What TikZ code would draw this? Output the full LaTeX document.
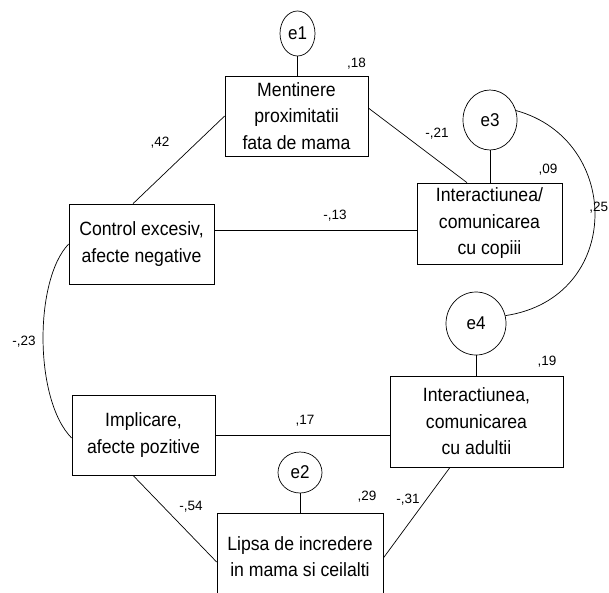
\documentclass[tikz,border=0pt]{standalone}
\usepackage{fontspec}
\setmainfont[FakeStretch=0.92]{Liberation Sans}
\newfontfamily\plainsans{Liberation Sans}
\usetikzlibrary{shapes.geometric}
\begin{document}
\begin{tikzpicture}[x=1pt,y=-1pt,
  line width=0.7pt,
  box/.style={draw, rectangle, align=center, inner sep=0pt,
    font=\fontsize{19.2}{26.5}\selectfont},
  err/.style={draw, ellipse, inner sep=0pt,
    font=\fontsize{18.5}{20}\selectfont},
  lbl/.style={inner sep=0pt, font=\plainsans\fontsize{13.5}{16}\selectfont}]
\useasboundingbox (0,0) rectangle (609,592);

% observed variables
\node[box, minimum width=143pt, minimum height=80pt] (ment) at (296.5,116) {Mentinere\\proximitatii\\fata de mama};
\node[box, minimum width=145pt, minimum height=81pt] (int1) at (489.5,223.5) {Interactiunea/\\comunicarea\\cu copiii};
\node[box, minimum width=145pt, minimum height=80pt] (ctrl) at (141.5,244) {Control excesiv,\\afecte negative};
\node[box, minimum width=143pt, minimum height=80pt] (impl) at (143.5,435) {Implicare,\\afecte pozitive};
\node[box, minimum width=173pt, minimum height=91pt] (int2) at (476.5,421.5) {Interactiunea,\\comunicarea\\cu adultii};
\node[box, minimum width=166pt, minimum height=87pt] (lipsa) at (300,556.5) {Lipsa de incredere\\in mama si ceilalti};

% error terms
\node[err, minimum width=35pt, minimum height=45pt] (e1) at (297.5,33.5) {e1};
\node[err, minimum width=54pt, minimum height=60pt] (e3) at (490,120) {e3};
\node[err, minimum width=60pt, minimum height=63pt] (e4) at (476,323.5) {e4};
\node[err, minimum width=44pt, minimum height=41pt] (e2) at (300,472.5) {e2};

% error links
\draw (e1.south) -- (e1.south |- ment.north);
\draw (e3.south) -- (e3.south |- int1.north);
\draw (e4.south) -- (e4.south |- int2.north);
\draw (e2.south) -- (e2.south |- lipsa.north);

% paths
\draw (ment.west) -- ([xshift=-8.5pt]ctrl.north);
\draw ([yshift=8pt]ment.east) -- ([xshift=-22.5pt]int1.north);
\draw ([yshift=14pt]ctrl.east) -- ([yshift=-6.5pt]int1.west);
\draw (impl.east) -- ([yshift=-13.5pt]int2.west);
\draw ([xshift=-10.5pt]impl.south) -- ([yshift=-5.5pt]lipsa.west);
\draw ([xshift=-26.5pt]int2.south) -- ([yshift=-1.5pt]lipsa.east);

% covariances
\draw (e3.20) .. controls (623,140) and (623,298) .. (e4.15);
\draw (ctrl.west) .. controls (34,280) and (34,400) .. ([yshift=-3pt]impl.west);

% labels
\node[lbl] (l18) at (356.5,63.5) {,18};
\node[lbl] (l42) at (160,143) {,42};
\node[lbl] (l21) at (437,134) {-,21};
\node[lbl] (l09) at (548,170) {,09};
\node[lbl, anchor=east] (l25) at (608.5,208) {,25};
\node[lbl] (l13) at (335,216) {-,13};
\node[lbl] (l23) at (24,342) {-,23};
\node[lbl] (l19) at (547,362) {,19};
\node[lbl] (l17) at (305,421) {,17};
\node[lbl] (l54) at (191,507) {-,54};
\node[lbl] (l29) at (367,497) {,29};
\node[lbl] (l31) at (408,500) {-,31};
\end{tikzpicture}
\end{document}
